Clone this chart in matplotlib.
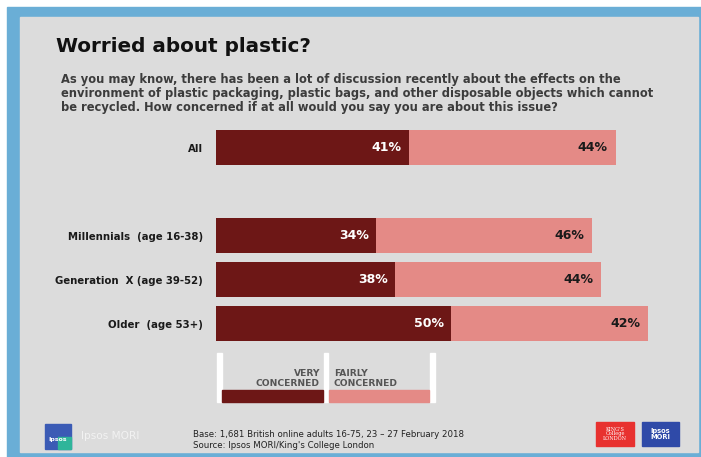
import matplotlib.pyplot as plt
from matplotlib.patches import Rectangle

groups = ["All", "Millennials  (age 16-38)", "Generation  X (age 39-52)", "Older  (age 53+)"]
positions = [0, 2, 3, 4]
very_concerned = [41, 34, 38, 50]
fairly_concerned = [44, 46, 44, 42]

DARK = "#6d1716"
PINK = "#e48a86"
GREY_BG = "#dcdcdc"
BLUE = "#6aaed6"

W, H = 701, 457
fig = plt.figure(figsize=(W / 100, H / 100), dpi=100)
fig.patch.set_facecolor("white")

# overlay in pixel coordinates for the frame, texts and logos
ov = fig.add_axes([0, 0, 1, 1])
ov.set_xlim(0, W)
ov.set_ylim(H, 0)
ov.axis("off")
ov.add_patch(Rectangle((7, 7), W - 7, H - 7, color=BLUE, zorder=0))
ov.add_patch(Rectangle((20, 17), 678, 435, color=GREY_BG, zorder=1))

ov.text(56, 46, "Worried about plastic?", fontsize=14.4, fontweight="bold",
        color="#111111", va="center", ha="left", zorder=3)
subtitle_lines = [
    "As you may know, there has been a lot of discussion recently about the effects on the",
    "environment of plastic packaging, plastic bags, and other disposable objects which cannot",
    "be recycled. How concerned if at all would you say you are about this issue?",
]
for i, line in enumerate(subtitle_lines):
    ov.text(61, 79 + 14.5 * i, line, fontsize=8.3, fontweight="bold", color="#3c3c3c",
            va="center", ha="left", zorder=3)

# legend
for x0, w in [(217, 5), (324, 4), (430, 5)]:
    ov.add_patch(Rectangle((x0, 353), w, 49, color="white", zorder=2))
ov.add_patch(Rectangle((222, 390), 101, 12, color=DARK, zorder=2))
ov.add_patch(Rectangle((329, 390), 100, 12, color=PINK, zorder=2))
ov.text(320, 378.5, "VERY\nCONCERNED", fontsize=6.6, fontweight="bold", color="#555555",
        ha="right", va="center", linespacing=1.05, zorder=3)
ov.text(334, 378.5, "FAIRLY\nCONCERNED", fontsize=6.6, fontweight="bold", color="#555555",
        ha="left", va="center", linespacing=1.05, zorder=3)

# footer
ov.text(193, 440, "Base: 1,681 British online adults 16-75, 23 \u2013 27 February 2018\n"
        "Source: Ipsos MORI/King's College London", fontsize=6.2, color="#222222",
        ha="left", va="center", linespacing=1.15, zorder=3)

# logos
ov.add_patch(Rectangle((45, 424), 26, 25, color="#3b5bb5", zorder=2))
ov.add_patch(Rectangle((58, 437), 13, 12, color="#2fb59a", zorder=2))
ov.text(58, 440, "Ipsos", fontsize=4.5, color="white", fontweight="bold",
        ha="center", va="center", zorder=3)
ov.text(81, 436, "Ipsos MORI", fontsize=7.6, color="#f2f2f2",
        ha="left", va="center", zorder=3)
ov.add_patch(Rectangle((596, 422), 38, 24, color="#e8312f", zorder=2))
ov.text(615, 434, "KING'S\nCollege\nLONDON", fontsize=3.6, color="white",
        family="DejaVu Serif", ha="center", va="center", linespacing=0.95, zorder=3)
ov.add_patch(Rectangle((642, 422), 37, 24, color="#2f4aa8", zorder=2))
ov.text(660.5, 434, "Ipsos\nMORI", fontsize=4.8, color="white", fontweight="bold",
        ha="center", va="center", linespacing=1.0, zorder=3)

# bar chart axes: x 0..100 spans 216..686 px, bars centred at 147.5 + 44*pos
ax = fig.add_axes([216 / W, 1 - 345.5 / H, 470 / W, 220 / H])
ax.set_facecolor("none")
ax.set_xlim(0, 100)
ax.set_ylim(4.5, -0.5)
bar_h = 35 / 44
ax.barh(positions, very_concerned, height=bar_h, color=DARK)
ax.barh(positions, fairly_concerned, left=very_concerned, height=bar_h, color=PINK)

for p, v, f in zip(positions, very_concerned, fairly_concerned):
    ax.text(v - 1.5, p, f"{v}%", color="white", fontsize=9, fontweight="bold",
            ha="right", va="center")
    ax.text(v + f - 1.7, p, f"{f}%", color="#1a1a1a", fontsize=9, fontweight="bold",
            ha="right", va="center")

ax.set_yticks(positions)
ax.set_yticklabels(groups, fontsize=7.3, fontweight="bold", color="#1a1a1a")
ax.tick_params(axis="y", length=0, pad=9.5)
ax.set_xticks([])
for s in ax.spines.values():
    s.set_visible(False)

fig.savefig("out.png", dpi=100)
